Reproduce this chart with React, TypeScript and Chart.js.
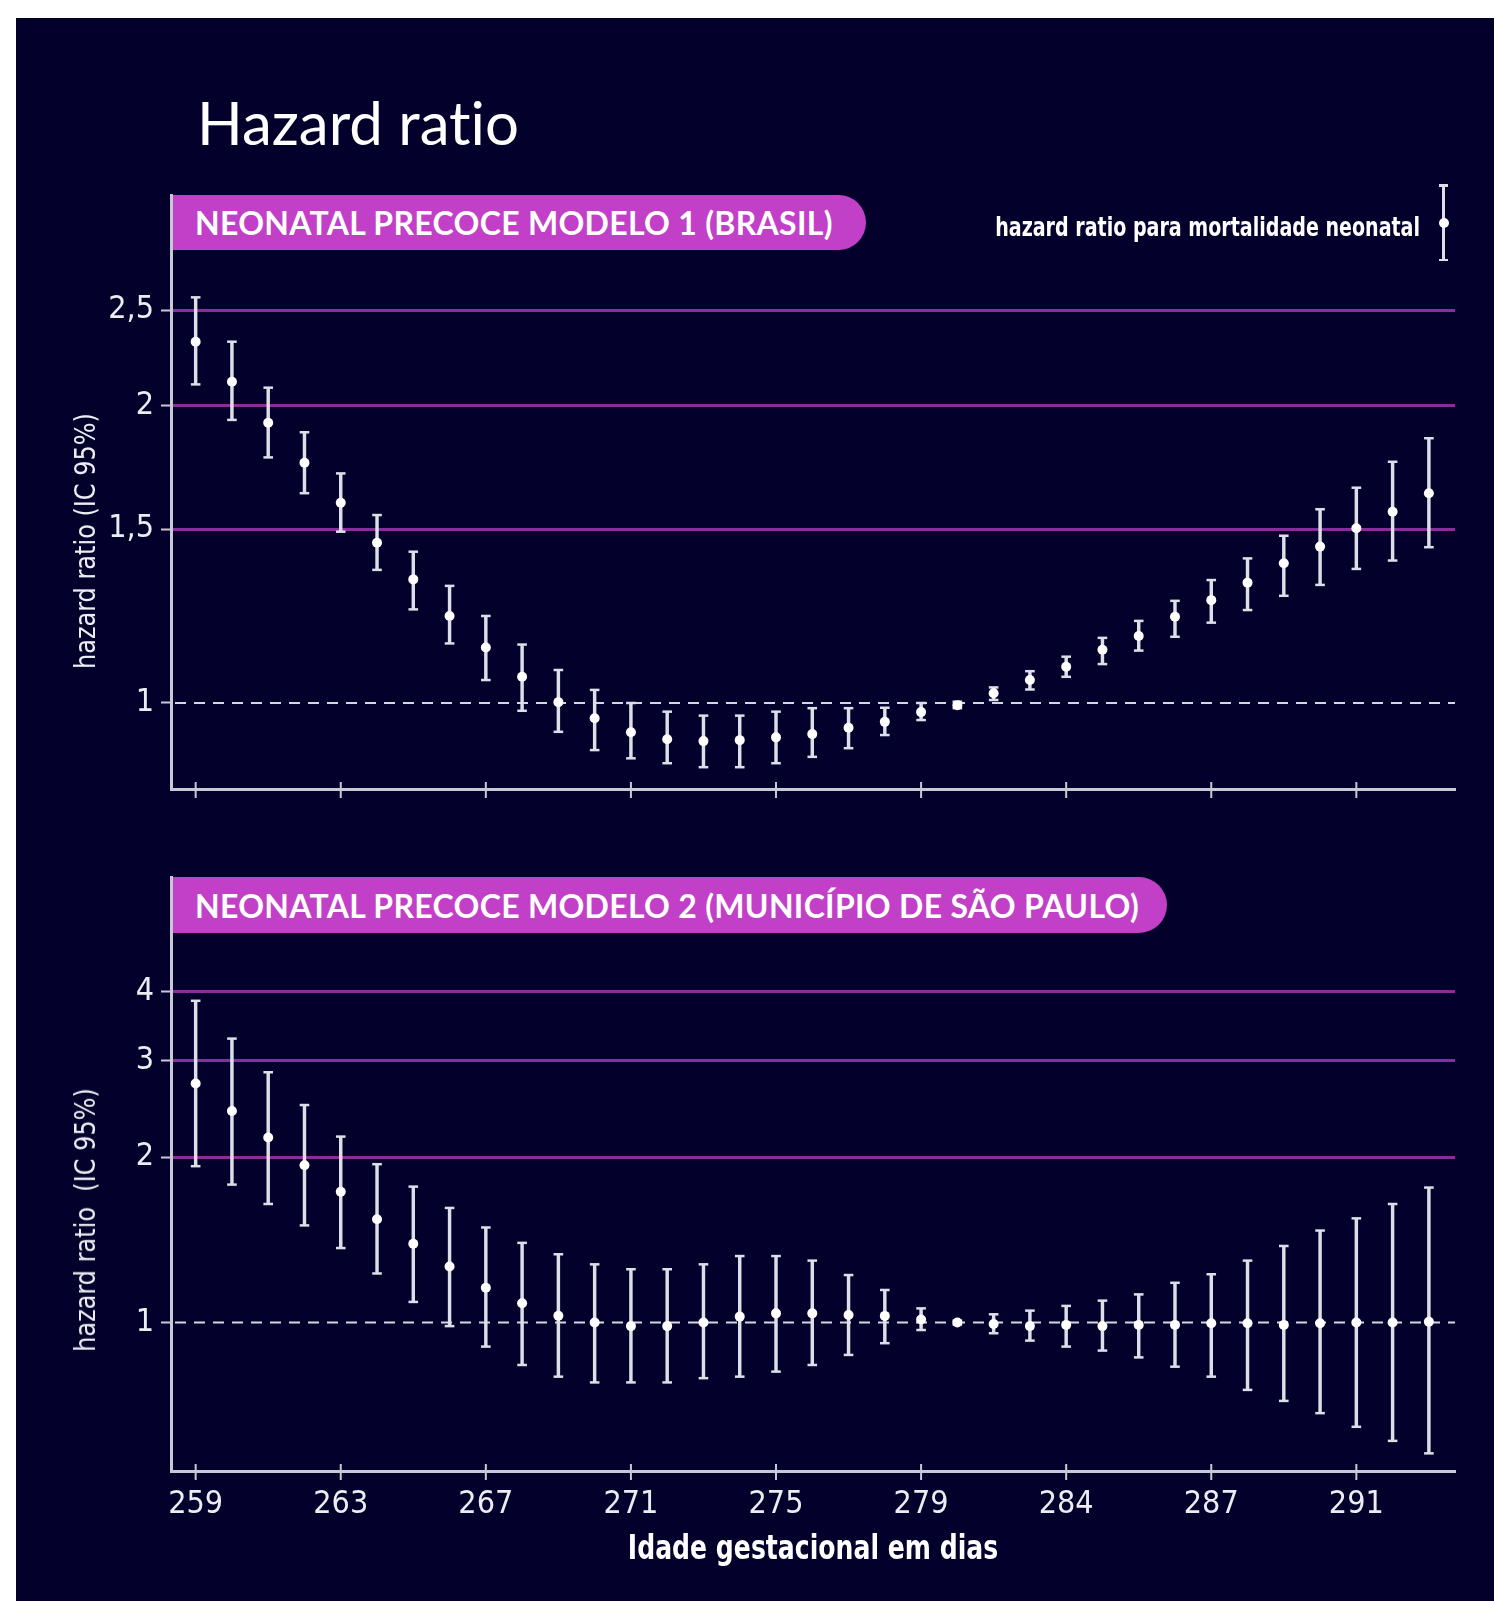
import React, { useEffect, useRef } from 'react';
import { Chart, registerables } from 'chart.js';

Chart.register(...registerables);

// ---------- data ----------
const days = [259, 260, 261, 262, 263, 264, 265, 266, 267, 268, 269, 270, 271, 272, 273, 274, 275, 276, 277, 278, 279, 280, 281, 282, 283, 284, 285, 286, 287, 288, 289, 290, 291, 292, 293];

// Modelo 1 (Brasil)
const m1Hr = [2.322, 2.115, 1.922, 1.751, 1.595, 1.453, 1.334, 1.225, 1.138, 1.063, 1.002, 0.965, 0.934, 0.919, 0.915, 0.917, 0.923, 0.930, 0.944, 0.957, 0.979, 0.995, 1.023, 1.055, 1.088, 1.132, 1.169, 1.223, 1.271, 1.324, 1.385, 1.440, 1.503, 1.562, 1.631];
const m1Low = [2.102, 1.935, 1.773, 1.631, 1.491, 1.364, 1.244, 1.149, 1.055, 0.982, 0.935, 0.896, 0.879, 0.869, 0.861, 0.861, 0.869, 0.882, 0.900, 0.928, 0.961, 0.988, 1.007, 1.032, 1.063, 1.095, 1.130, 1.167, 1.206, 1.242, 1.284, 1.317, 1.367, 1.394, 1.438];
const m1High = [2.575, 2.322, 2.086, 1.880, 1.708, 1.550, 1.423, 1.314, 1.225, 1.146, 1.080, 1.031, 1.000, 0.980, 0.971, 0.971, 0.980, 0.988, 0.988, 0.989, 1.000, 1.003, 1.037, 1.077, 1.114, 1.164, 1.211, 1.269, 1.332, 1.401, 1.477, 1.571, 1.652, 1.755, 1.854];

// Modelo 2 (Município de São Paulo)
const m2Hr = [2.722, 2.425, 2.170, 1.933, 1.730, 1.541, 1.391, 1.264, 1.157, 1.084, 1.029, 1.000, 0.985, 0.985, 1.000, 1.025, 1.039, 1.039, 1.032, 1.028, 1.013, 1.000, 0.994, 0.985, 0.990, 0.985, 0.990, 0.990, 0.997, 0.997, 0.990, 0.997, 1.000, 1.000, 1.003];
const m2Low = [1.925, 1.782, 1.643, 1.502, 1.366, 1.228, 1.090, 0.985, 0.904, 0.837, 0.797, 0.778, 0.778, 0.778, 0.792, 0.797, 0.814, 0.837, 0.873, 0.917, 0.969, 0.992, 0.956, 0.927, 0.904, 0.889, 0.864, 0.831, 0.797, 0.754, 0.720, 0.684, 0.646, 0.609, 0.578];
const m2High = [3.849, 3.285, 2.853, 2.487, 2.179, 1.941, 1.767, 1.616, 1.489, 1.396, 1.331, 1.276, 1.250, 1.250, 1.276, 1.321, 1.321, 1.296, 1.220, 1.146, 1.061, 1.008, 1.035, 1.051, 1.072, 1.096, 1.125, 1.181, 1.224, 1.296, 1.378, 1.470, 1.547, 1.643, 1.760];

const xTickValues = [259, 263, 267, 271, 275, 279, 283, 287, 291];
const xTickLabels = ['259', '263', '267', '271', '275', '279', '284', '287', '291'];
const m1YTicks = [1, 1.5, 2, 2.5];
const m2YTicks = [1, 2, 3, 4];
const referenceHr = 1;

// ---------- style ----------
const BG = '#03012b';
const PINK = '#c140c7';
const PURPLE = '#8a2c9e';
const AXIS = '#c9c9d6';
const WHISKER = '#dedee8';
const TEXT = '#ececf2';
const NARROW = "'Liberation Sans Narrow', 'DejaVu Sans Condensed', 'Arial Narrow', sans-serif";
const LATO = "Lato, 'Open Sans', sans-serif";

const refPlugin = {
  id: 'refLineAndTicks',
  beforeDatasetsDraw(chart: any) {
    const { ctx, chartArea, scales } = chart;
    const y = scales.y.getPixelForValue(referenceHr);
    ctx.save();
    ctx.strokeStyle = '#d6d6e0';
    ctx.lineWidth = 2;
    ctx.setLineDash([11, 8]);
    ctx.beginPath();
    ctx.moveTo(chartArea.left + 4, y);
    ctx.lineTo(chartArea.right, y);
    ctx.stroke();
    ctx.restore();
  },
  afterDraw(chart: any) {
    const { ctx, chartArea, scales } = chart;
    ctx.save();
    ctx.strokeStyle = AXIS;
    ctx.lineWidth = 2;
    xTickValues.forEach((v) => {
      const x = scales.x.getPixelForValue(v);
      ctx.beginPath();
      ctx.moveTo(x, chartArea.bottom - 7);
      ctx.lineTo(x, chartArea.bottom + 9);
      ctx.stroke();
    });
    ctx.restore();
  },
};

function buildConfig(
  hr: number[], low: number[], high: number[], yTicks: number[],
  yMin: number, yMax: number, showXLabels: boolean, xAxisHeight: number, padTop: number
): any {
  const capStyle = {
    type: 'scatter',
    pointStyle: 'line',
    pointRadius: 4.8,
    pointHoverRadius: 4.8,
    pointBorderColor: WHISKER,
    pointBorderWidth: 2.5,
    order: 1,
  };
  return {
    type: 'scatter',
    data: {
      datasets: [
        {
          type: 'scatter',
          data: days.map((d, i) => ({ x: d, y: hr[i] })),
          pointRadius: 5,
          pointHoverRadius: 5,
          pointBackgroundColor: '#ffffff',
          pointBorderWidth: 0,
          order: 0,
        },
        { ...capStyle, data: days.map((d, i) => ({ x: d, y: low[i] })) },
        { ...capStyle, data: days.map((d, i) => ({ x: d, y: high[i] })) },
        {
          type: 'bar',
          data: days.map((d, i) => ({ x: d, y: [low[i], high[i]] })),
          backgroundColor: WHISKER,
          borderWidth: 0,
          barThickness: 2.8,
          grouped: false,
          order: 2,
        },
      ],
    },
    options: {
      animation: false,
      responsive: false,
      maintainAspectRatio: false,
      devicePixelRatio: 1,
      events: [],
      layout: { padding: { left: 0, right: 39, top: padTop, bottom: 0 } },
      plugins: { legend: { display: false }, tooltip: { enabled: false }, title: { display: false } },
      scales: {
        x: {
          type: 'linear',
          offset: false,
          min: 258.32,
          max: 293.72,
          bounds: 'data',
          grid: { display: false, drawTicks: false, offset: false },
          border: { display: true, color: AXIS, width: 3 },
          ticks: {
            display: showXLabels,
            autoSkip: false,
            maxRotation: 0,
            padding: 14,
            color: TEXT,
            font: { family: NARROW, size: 32 },
            callback: (_v: any, i: number) => xTickLabels[i],
          },
          afterBuildTicks: (s: any) => { s.ticks = xTickValues.map((v) => ({ value: v })); },
          afterFit: (s: any) => { s.height = xAxisHeight; s.paddingLeft = 0; s.paddingRight = 0; },
        },
        y: {
          type: 'logarithmic',
          min: yMin,
          max: yMax,
          bounds: 'data',
          grid: {
            color: (c: any) => (c.tick && c.tick.value === referenceHr ? 'rgba(0,0,0,0)' : PURPLE),
            lineWidth: 3,
            drawTicks: true,
            tickLength: 10,
            tickColor: AXIS,
            tickWidth: 2,
          },
          border: { display: true, color: AXIS, width: 3 },
          ticks: {
            padding: 7,
            color: TEXT,
            font: { family: NARROW, size: 32 },
            callback: (v: any) => String(v).replace('.', ','),
          },
          afterBuildTicks: (s: any) => { s.ticks = yTicks.map((v) => ({ value: v })); },
          afterFit: (s: any) => { s.width = 171; s.paddingTop = 0; s.paddingBottom = 0; },
        },
      },
    },
    plugins: [refPlugin],
  };
}

const abs = (o: React.CSSProperties): React.CSSProperties => ({ position: 'absolute', ...o });

export default function App() {
  const topRef = useRef<HTMLCanvasElement>(null);
  const botRef = useRef<HTMLCanvasElement>(null);

  useEffect(() => {
    const c1 = new Chart(topRef.current as HTMLCanvasElement,
      buildConfig(m1Hr, m1Low, m1High, m1YTicks, 0.8183, 3.269, false, 61, 45));
    const c2 = new Chart(botRef.current as HTMLCanvasElement,
      buildConfig(m2Hr, m2Low, m2High, m2YTicks, 0.5368, 6.465, true, 130, 17));
    return () => { c1.destroy(); c2.destroy(); };
  }, []);

  const bannerText: React.CSSProperties = {
    fontFamily: LATO, fontWeight: 700, fontSize: 32, color: '#ffffff',
    paddingLeft: 23, whiteSpace: 'nowrap', letterSpacing: 0.3,
  };

  return (
    <div style={abs({ left: 0, top: 0, width: 1494, height: 1601, background: '#ffffff', overflow: 'hidden' })}>
      <div style={abs({ left: 16, top: 18, right: 0, bottom: 0, background: BG })} />

      <div style={abs({ left: 197, top: 92, fontFamily: LATO, fontWeight: 400, fontSize: 60, lineHeight: '60px', color: '#ffffff', whiteSpace: 'nowrap', fontVariantLigatures: 'none' })}>
        Hazard ratio
      </div>

      <div style={abs({ left: 172, top: 195, width: 694, height: 55, background: PINK, borderRadius: '0 28px 28px 0', display: 'flex', alignItems: 'center' })}>
        <span style={bannerText}>NEONATAL PRECOCE MODELO 1 (BRASIL)</span>
      </div>
      <div style={abs({ left: 172, top: 877, width: 995, height: 56, background: PINK, borderRadius: '0 28px 28px 0', display: 'flex', alignItems: 'center' })}>
        <span style={bannerText}>NEONATAL PRECOCE MODELO 2 (MUNICÍPIO DE SÃO PAULO)</span>
      </div>

      <canvas ref={topRef} width={1494} height={700} style={abs({ left: 0, top: 150, width: 1494, height: 700 })} />
      <canvas ref={botRef} width={1494} height={741} style={abs({ left: 0, top: 860, width: 1494, height: 741 })} />

      {/* legend */}
      <div style={abs({ left: 880, top: 214, width: 540, textAlign: 'right', fontFamily: NARROW, fontWeight: 700, fontSize: 26, lineHeight: '26px', color: '#ffffff', whiteSpace: 'nowrap', transform: 'scaleX(0.815)', transformOrigin: '100% 50%' })}>
        hazard ratio para mortalidade neonatal
      </div>
      <div style={abs({ left: 1442, top: 185, width: 2.5, height: 75, background: WHISKER })} />
      <div style={abs({ left: 1438.5, top: 184, width: 9.5, height: 2.5, background: WHISKER })} />
      <div style={abs({ left: 1438.5, top: 258.5, width: 9.5, height: 2.5, background: WHISKER })} />
      <div style={abs({ left: 1438.5, top: 217.5, width: 10, height: 10, borderRadius: '50%', background: '#ffffff' })} />

      {/* axis titles */}
      <div style={abs({ left: 85, top: 541, transform: 'translate(-50%, -50%) rotate(-90deg) scaleX(0.92)', fontFamily: NARROW, fontSize: 29, color: TEXT, whiteSpace: 'nowrap' })}>
        hazard ratio (IC 95%)
      </div>
      <div style={abs({ left: 85, top: 1220, transform: 'translate(-50%, -50%) rotate(-90deg) scaleX(0.92)', fontFamily: NARROW, fontSize: 29, color: TEXT, whiteSpace: 'pre' })}>
        hazard ratio  (IC 95%)
      </div>
      <div style={abs({ left: 813, top: 1531, transform: 'translateX(-50%) scaleX(0.846)', fontFamily: NARROW, fontWeight: 700, fontSize: 33, lineHeight: '33px', color: '#ffffff', whiteSpace: 'nowrap' })}>
        Idade gestacional em dias
      </div>
    </div>
  );
}
